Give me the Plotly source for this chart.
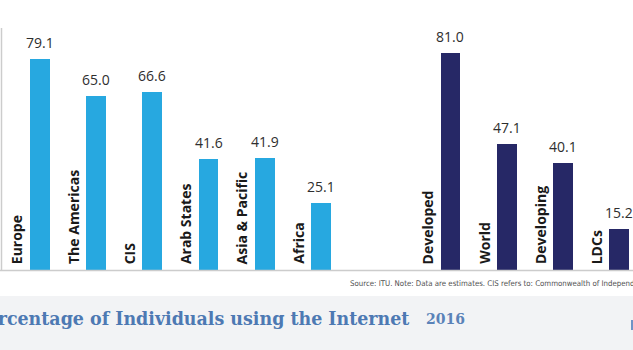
import plotly.graph_objects as go

W, H = 633, 350

regions = ["Europe", "The Americas", "CIS", "Arab States", "Asia & Pacific", "Africa"]
region_vals = [79.1, 65.0, 66.6, 41.6, 41.9, 25.1]
groups = ["Developed", "World", "Developing", "LDCs"]
group_vals = [81.0, 47.1, 40.1, 15.2]

title_text = "Percentage of Individuals using the Internet"
year_text = "2016"
source_text = "Source: ITU. Note: Data are estimates. CIS refers to: Commonwealth of Independent States."

LIGHT = "#27a8e0"
NAVY = "#262866"

gap = 1.295
x_reg = list(range(len(regions)))
x_grp = [len(regions) + gap + i for i in range(len(groups))]

def px(x):
    return x / W

def py(y):
    return (H - y) / H

fig = go.Figure()
fig.add_trace(go.Bar(x=x_reg, y=region_vals, marker_color=LIGHT, width=0.35,
                     marker_line_width=0, hoverinfo="skip"))
fig.add_trace(go.Bar(x=x_grp, y=group_vals, marker_color=NAVY, width=0.35,
                     marker_line_width=0, hoverinfo="skip"))

ann = []
for xs, names, vals in [(x_reg, regions, region_vals), (x_grp, groups, group_vals)]:
    for x, n, v in zip(xs, names, vals):
        ann.append(dict(x=x, y=v, xref="x", yref="y", text=f"{v:.1f}", showarrow=False,
                        yanchor="bottom", xanchor="center", yshift=5,
                        font=dict(family="Open Sans", size=14, color="#2e2e2e")))
        ann.append(dict(x=x, y=0, xref="x", yref="y", text=n, showarrow=False,
                        textangle=-90, yanchor="bottom", xanchor="center",
                        xshift=-23, yshift=4,
                        font=dict(family="Open Sans", size=14, color="#1a1a1a", weight=700)))

ann.append(dict(x=px(348), y=py(283), xref="paper", yref="paper", text=source_text,
                showarrow=False, xanchor="left", yanchor="middle",
                font=dict(family="Liberation Sans Narrow, DejaVu Sans Condensed, Liberation Sans",
                          size=7.8, color="#505050")))
ann.append(dict(x=px(411), y=py(318), xref="paper", yref="paper", text=f"<b>{title_text}</b>",
                showarrow=False, xanchor="right", yanchor="middle",
                font=dict(family="DejaVu Serif Condensed, DejaVu Serif", size=19.4, color="#4d79b3")))
ann.append(dict(x=px(424), y=py(319), xref="paper", yref="paper", text=year_text,
                showarrow=False, xanchor="left", yanchor="middle",
                font=dict(family="DejaVu Serif", size=14, color="#5a82b8", weight=600)))

shapes = [
    dict(type="rect", xref="paper", yref="paper", x0=0, x1=1, y0=0, y1=py(296),
         fillcolor="#f2f3f5", line_width=0, layer="below"),
    dict(type="line", xref="paper", yref="paper", x0=0, x1=1, y0=py(270.5), y1=py(270.5),
         line=dict(color="#cccccc", width=1.5)),
    dict(type="line", xref="paper", yref="paper", x0=px(1.5), x1=px(1.5), y0=py(270), y1=py(28),
         line=dict(color="#cccccc", width=1.5)),
    dict(type="rect", xref="paper", yref="paper", x0=px(631), x1=1, y0=py(330), y1=py(320),
         fillcolor="#6f93c6", line_width=0),
]

x0 = x_reg[0]
s = 56.3
fig.update_layout(
    width=W, height=H,
    margin=dict(l=0, r=0, t=0, b=0),
    paper_bgcolor="white", plot_bgcolor="white",
    showlegend=False,
    xaxis=dict(range=[x0 - 39.7 / s, x0 - 39.7 / s + W / s], visible=False, fixedrange=True),
    yaxis=dict(range=[0, 101], domain=[py(270), 1], visible=False, fixedrange=True),
    annotations=ann,
    shapes=shapes,
    bargap=0,
)

fig.write_html("out.html", config={"displayModeBar": False})
